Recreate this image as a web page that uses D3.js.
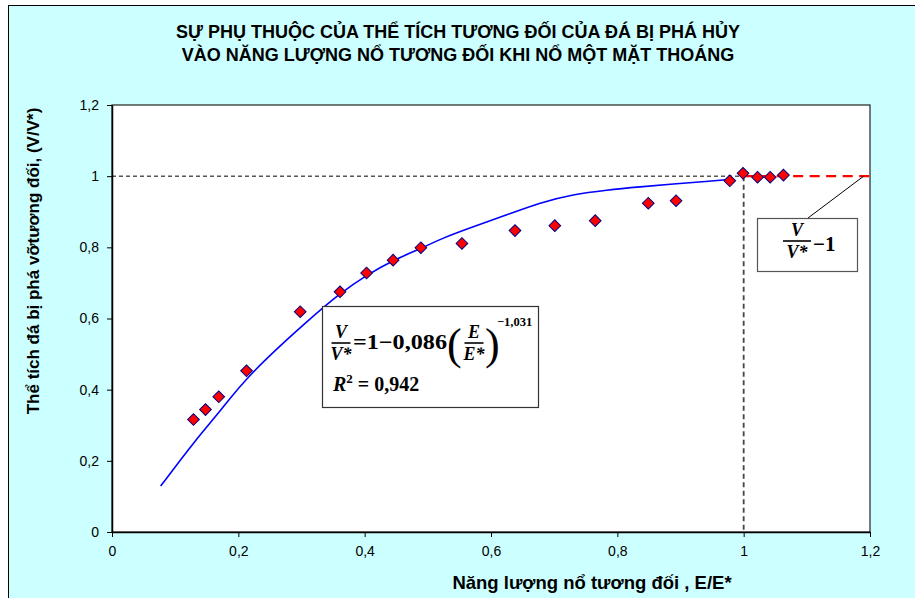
<!DOCTYPE html>
<html>
<head>
<meta charset="utf-8">
<script src="https://cdn.jsdelivr.net/npm/d3@7"></script>
<style>
  html, body { margin: 0; padding: 0; background: #ffffff; }
  svg { display: block; }
</style>
</head>
<body>
<svg id="chart" width="915" height="598"></svg>
<script>
// Measured points: relative explosion energy vs relative broken rock volume
const energyRatio = [0.129, 0.148, 0.169, 0.213, 0.298, 0.361, 0.403, 0.445, 0.489, 0.554,
                     0.638, 0.701, 0.765, 0.849, 0.893, 0.978, 0.999, 1.022, 1.042, 1.063];
const volumeRatio = [0.316, 0.344, 0.380, 0.453, 0.619, 0.675, 0.728, 0.764, 0.799, 0.811,
                     0.847, 0.861, 0.875, 0.924, 0.931, 0.987, 1.008, 0.997, 0.997, 1.003];

// Fitted trend curve
const trendX = [0.077, 0.134, 0.171, 0.213, 0.311, 0.361, 0.403, 0.445, 0.490, 0.519,
                0.572, 0.625, 0.678, 0.730, 0.783, 0.836, 0.889, 0.941, 0.984];
const trendY = [0.129, 0.263, 0.338, 0.437, 0.596, 0.671, 0.722, 0.764, 0.797, 0.823,
                0.858, 0.891, 0.926, 0.949, 0.961, 0.970, 0.978, 0.985, 0.992];

// Axes
const xTicks = [0, 0.2, 0.4, 0.6, 0.8, 1, 1.2];
const xTickLabels = ["0", "0,2", "0,4", "0,6", "0,8", "1", "1,2"];
const yTicks = [0, 0.2, 0.4, 0.6, 0.8, 1, 1.2];
const yTickLabels = ["0", "0,2", "0,4", "0,6", "0,8", "1", "1,2"];

const titleLines = ["SỰ PHỤ THUỘC CỦA THỂ TÍCH TƯƠNG ĐỐI CỦA ĐÁ BỊ PHÁ HỦY",
                    "VÀO NĂNG LƯỢNG NỔ TƯƠNG ĐỐI KHI NỔ MỘT MẶT THOÁNG"];
const xTitle = "Năng lượng nổ tương đối , E/E*";
const yTitle = "Thể tích đá bị phá vỡtương đối, (V/V*)";
const fitCoef = "0,086";
const fitExp = "−1,031";
const fitR2 = "0,942";
const limitValue = 1;

const svg = d3.select("#chart");
const plot = { left: 112, top: 105, right: 870, bottom: 532 };

const x = d3.scaleLinear().domain([0, 1.2]).range([plot.left, plot.right]);
const y = d3.scaleLinear().domain([0, 1.2]).range([plot.bottom, plot.top]);

// Chart area background
svg.append("rect")
  .attr("x", 8.5).attr("y", 5.5).attr("width", 940).attr("height", 640)
  .attr("fill", "#CCFFFF").attr("stroke", "#000").attr("stroke-width", 1);

// Plot area
svg.append("rect")
  .attr("x", plot.left).attr("y", plot.top)
  .attr("width", plot.right - plot.left).attr("height", plot.bottom - plot.top)
  .attr("fill", "#ffffff").attr("stroke", "#222").attr("stroke-width", 1.2);

// Title
const title = svg.append("text")
  .attr("text-anchor", "middle")
  .attr("font-family", "Liberation Sans, Arial, sans-serif")
  .attr("font-weight", "bold").attr("font-size", 18).attr("fill", "#000");
titleLines.forEach((t, i) => {
  title.append("tspan").attr("x", 458).attr("y", 38 + i * 23).text(t);
});

// Axes
const xAxis = d3.axisBottom(x).tickValues(xTicks)
  .tickFormat((d, i) => xTickLabels[i]).tickSizeInner(5).tickSizeOuter(0).tickPadding(9);
const yAxis = d3.axisLeft(y).tickValues(yTicks)
  .tickFormat((d, i) => yTickLabels[i]).tickSizeInner(5).tickSizeOuter(0).tickPadding(8);

const gx = svg.append("g").attr("transform", `translate(0,${plot.bottom})`).call(xAxis);
const gy = svg.append("g").attr("transform", `translate(${plot.left},0)`).call(yAxis);
[gx, gy].forEach(g => {
  g.select(".domain").attr("stroke", "#000").attr("stroke-width", 1.5);
  g.selectAll(".tick line").attr("stroke", "#000").attr("stroke-width", 1);
  g.selectAll(".tick text")
    .attr("font-family", "Liberation Sans, Arial, sans-serif")
    .attr("font-size", 14).attr("fill", "#000");
});

// Axis titles
svg.append("text")
  .attr("x", 592).attr("y", 589).attr("text-anchor", "middle")
  .attr("font-family", "Liberation Sans, Arial, sans-serif")
  .attr("font-weight", "bold").attr("font-size", 18.5).text(xTitle);

svg.append("text")
  .attr("transform", "translate(39,261) rotate(-90)")
  .attr("text-anchor", "middle")
  .attr("font-family", "Liberation Sans, Arial, sans-serif")
  .attr("font-weight", "bold").attr("font-size", 17).text(yTitle);

// Reference lines at V/V* = 1 and E/E* = 1
svg.append("line")
  .attr("x1", x(0)).attr("x2", x(limitValue)).attr("y1", y(limitValue)).attr("y2", y(limitValue))
  .attr("stroke", "#000").attr("stroke-width", 1).attr("stroke-dasharray", "4,3");
svg.append("line")
  .attr("x1", x(limitValue)).attr("x2", x(limitValue)).attr("y1", y(limitValue)).attr("y2", y(0))
  .attr("stroke", "#444").attr("stroke-width", 1.8).attr("stroke-dasharray", "5,3.5");
svg.append("line")
  .attr("x1", x(limitValue)).attr("x2", x(1.2)).attr("y1", y(limitValue)).attr("y2", y(limitValue))
  .attr("stroke", "#FF0000").attr("stroke-width", 2.3).attr("stroke-dasharray", "10,6.5");

// Trend curve
const trend = trendX.map((v, i) => [v, trendY[i]]);
svg.append("path")
  .datum(trend)
  .attr("fill", "none").attr("stroke", "#0000FF").attr("stroke-width", 1.6)
  .attr("d", d3.line().x(d => x(d[0])).y(d => y(d[1])).curve(d3.curveBasis));

// Measured points (diamonds)
const diamond = d3.symbol().type(d3.symbolSquare).size(68);
svg.append("g").selectAll("path")
  .data(energyRatio.map((v, i) => [v, volumeRatio[i]]))
  .join("path")
  .attr("d", diamond)
  .attr("transform", d => `translate(${x(d[0])},${y(d[1])}) rotate(45)`)
  .attr("fill", "#FF0000").attr("stroke", "#000080").attr("stroke-width", 1);

// Equation box for the fitted curve
const serif = "Liberation Serif, Times New Roman, serif";
const b1 = { x: 322, y: 306, w: 216, h: 101 };
const eq = svg.append("g").attr("font-family", serif).attr("font-weight", "bold").attr("fill", "#000");
eq.append("rect").attr("x", b1.x + 0.5).attr("y", b1.y + 0.5).attr("width", b1.w).attr("height", b1.h)
  .attr("fill", "#fff").attr("stroke", "#333").attr("stroke-width", 1.2);

function fraction(g, cx, top, num, den, size, barW) {
  g.append("text").attr("x", cx).attr("y", top + size * 0.78).attr("text-anchor", "middle")
    .attr("font-style", "italic").attr("font-size", size).text(num);
  g.append("line").attr("x1", cx - barW / 2).attr("x2", cx + barW / 2)
    .attr("y1", top + size + 1).attr("y2", top + size + 1).attr("stroke", "#000").attr("stroke-width", 1.6);
  g.append("text").attr("x", cx).attr("y", top + size * 1.78 + 4).attr("text-anchor", "middle")
    .attr("font-style", "italic").attr("font-size", size).text(den);
}

fraction(eq, 341, 324, "V", "V*", 18, 19);
eq.append("text").attr("x", 353).attr("y", 349).attr("font-size", 21)
  .attr("textLength", 94).attr("lengthAdjust", "spacingAndGlyphs").text("=1−" + fitCoef);
eq.append("text").attr("x", 447).attr("y", 359).attr("font-size", 44).attr("font-weight", "normal").text("(");
fraction(eq, 474, 324, "E", "E*", 18, 19);
eq.append("text").attr("x", 485).attr("y", 359).attr("font-size", 44).attr("font-weight", "normal").text(")");
eq.append("text").attr("x", 497).attr("y", 326).attr("font-size", 12.5).text(fitExp);
const r2 = eq.append("text").attr("x", 333).attr("y", 391).attr("font-size", 20);
r2.append("tspan").attr("font-style", "italic").text("R");
r2.append("tspan").attr("font-size", 13).attr("dy", -8).text("2");
r2.append("tspan").attr("dy", 8).text(" = " + fitR2);

// Label for the limit line
const b2 = { x: 757, y: 218, w: 100, h: 53 };
svg.append("line")
  .attr("x1", 808).attr("y1", b2.y).attr("x2", x(1.19)).attr("y2", y(limitValue))
  .attr("stroke", "#000").attr("stroke-width", 1);
const lim = svg.append("g").attr("font-family", serif).attr("font-weight", "bold").attr("fill", "#000");
lim.append("rect").attr("x", b2.x + 0.5).attr("y", b2.y + 0.5).attr("width", b2.w).attr("height", b2.h)
  .attr("fill", "#fff").attr("stroke", "#555").attr("stroke-width", 1.2);
fraction(lim, 797, 222, "V", "V*", 18, 28);
lim.append("text").attr("x", 813).attr("y", 251).attr("font-size", 21).text("−1");
</script>
</body>
</html>
